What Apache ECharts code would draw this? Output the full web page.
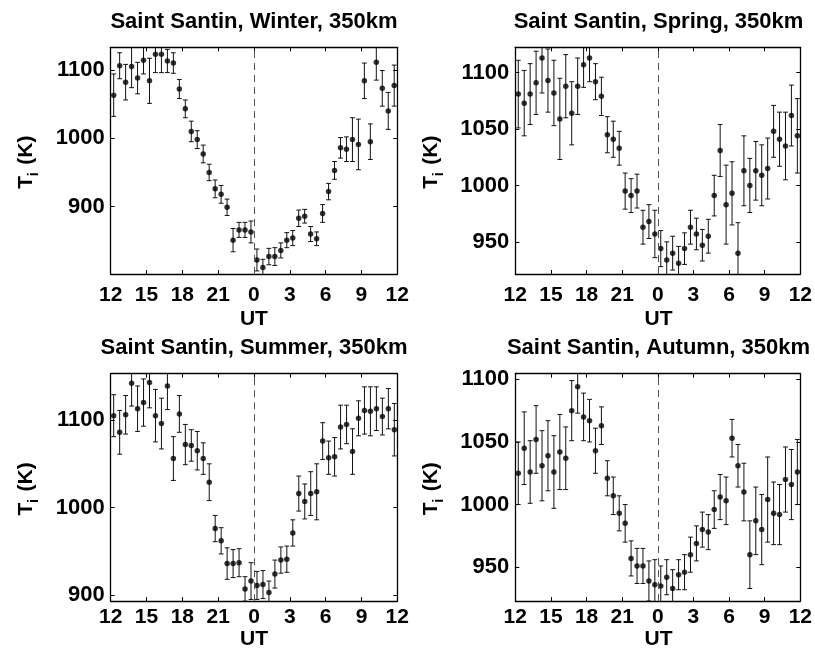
<!DOCTYPE html>
<html>
<head>
<meta charset="utf-8">
<script src="https://cdn.jsdelivr.net/npm/echarts@6/dist/echarts.min.js"></script>
<style>
  html, body { margin: 0; padding: 0; background: #fff; }
  #chart { width: 815px; height: 651px; }
</style>
</head>
<body>
<div id="chart"></div>
<script>
// ---------------- DATA ----------------
const utHours = [12.25,12.75,13.25,13.75,14.25,14.75,15.25,15.75,16.25,16.75,17.25,17.75,
  18.25,18.75,19.25,19.75,20.25,20.75,21.25,21.75,22.25,22.75,23.25,23.75,
  0.25,0.75,1.25,1.75,2.25,2.75,3.25,3.75,4.25,4.75,5.25,5.75,
  6.25,6.75,7.25,7.75,8.25,8.75,9.25,9.75,10.25,10.75,11.25,11.75];

const xTickLabels = ['12','15','18','21','0','3','6','9','12'];

const winterTi  = [1063,1106,1082,1105,1088,1114,1084,1123,1123,1113,1110,1072,1043,1010,998,977,950,926,918,899,851,866,866,863,
  822,811,827,827,836,851,854,883,886,860,853,890,922,953,986,984,998,991,1084,995,1111,1073,1040,1077];
const winterErr = [31,19,26,31,23,20,33,27,27,17,15,14,13,15,13,13,12,13,13,12,17,11,11,16,
  16,12,12,13,11,11,11,12,10,11,10,13,12,13,15,18,32,37,26,26,26,26,27,30];

const springTi  = [1081,1073,1081,1091,1113,1093,1082,1059,1088,1064,1088,1107,1113,1092,1079,1045,1041,1033,995,991,995,963,968,957,
  944,934,940,931,944,963,957,947,955,991,1031,983,993,940,1013,1000,1013,1009,1015,1048,1041,1035,1062,1044];
const springErr = [30,29,27,28,31,28,29,36,28,28,25,20,21,16,17,16,16,15,16,15,15,15,15,21,
  16,16,15,15,14,15,14,14,15,18,23,35,28,27,31,24,26,27,27,23,24,30,27,33];

const summerTi  = [1105,1086,1106,1142,1113,1120,1143,1105,1096,1139,1056,1107,1072,1071,1065,1056,1029,976,962,936,936,937,907,916,
  911,912,903,924,940,941,971,1016,1007,1016,1018,1076,1057,1058,1092,1095,1064,1102,1111,1110,1113,1104,1113,1089];
const summerErr = [24,25,22,26,26,27,29,30,29,27,25,21,23,18,22,18,21,15,15,18,16,16,14,21,
  16,16,13,16,15,15,15,20,20,25,32,21,19,22,25,22,26,20,27,28,25,21,23,30];

const autumnTi  = [1025,1045,1026,1052,1031,1039,1026,1042,1037,1075,1094,1070,1067,1043,1063,1021,1007,993,985,957,951,951,939,936,
  935,942,933,944,946,960,969,980,978,996,1006,1003,1053,1031,1010,960,987,980,1004,993,992,1020,1016,1026];
const autumnErr = [25,29,25,27,28,28,29,30,25,24,21,19,17,18,15,14,15,14,15,14,14,14,16,20,
  16,14,15,12,14,14,14,14,14,15,18,19,15,17,23,27,27,28,34,25,24,26,28,26];

const panelTitles = ['Saint Santin, Winter, 350km','Saint Santin, Spring, 350km',
  'Saint Santin, Summer, 350km','Saint Santin, Autumn, 350km'];
const winterYTicks = [900,1000,1100];
const springYTicks = [950,1000,1050,1100];
const summerYTicks = [900,1000,1100];
const autumnYTicks = [950,1000,1050,1100];

// ---------------- LAYOUT ----------------
const panels = [
  {ti: winterTi, err: winterErr, ticks: winterYTicks, yMin: 801.5, yMax: 1133,
   grid: {left: 110.7, top: 47.3, width: 286.5, height: 226.7}, labMargin: 11},
  {ti: springTi, err: springErr, ticks: springYTicks, yMin: 921.5, yMax: 1122.5,
   grid: {left: 515.3, top: 47.3, width: 286.4, height: 226.7}, labMargin: 11},
  {ti: summerTi, err: summerErr, ticks: summerYTicks, yMin: 893, yMax: 1153,
   grid: {left: 110.7, top: 373.7, width: 286.6, height: 227.5}, labMargin: 5.5},
  {ti: autumnTi, err: autumnErr, ticks: autumnYTicks, yMin: 923, yMax: 1104.5,
   grid: {left: 515.3, top: 373.7, width: 286.4, height: 227.3}, labMargin: 5.5}
];
const FONT = "'Liberation Sans', Arial, Helvetica, sans-serif";
const axisLineStyle = {color: '#000', width: 1.3};

// position on axis (hours after 12 UT)
const xPos = utHours.map(h => (h - 12 + 24) % 24);

function errRender(params, api) {
  const x = api.value(0), y = api.value(1), e = api.value(2);
  const t = api.coord([x, y + e]);
  const b = api.coord([x, y - e]);
  const hw = 2.4;
  const st = {stroke: '#111', lineWidth: 1};
  return {type: 'group', children: [
    {type: 'line', shape: {x1: t[0], y1: t[1], x2: b[0], y2: b[1]}, style: st},
    {type: 'line', shape: {x1: t[0] - hw, y1: t[1], x2: t[0] + hw, y2: t[1]}, style: st},
    {type: 'line', shape: {x1: b[0] - hw, y1: b[1], x2: b[0] + hw, y2: b[1]}, style: st}
  ]};
}

const grids = [], xAxes = [], yAxes = [], series = [], graphics = [];

panels.forEach((p, i) => {
  grids.push(Object.assign({containLabel: false}, p.grid));
  const xBase = {gridIndex: i, type: 'value', min: 0, max: 24, interval: 3,
    axisLine: {show: true, onZero: false, lineStyle: axisLineStyle},
    axisTick: {show: true, inside: true, length: 4, lineStyle: {color: '#000', width: 1}},
    splitLine: {show: false}};
  xAxes.push(Object.assign({}, xBase, {position: 'bottom',
    axisLabel: {show: true, margin: p.labMargin, color: '#000', fontFamily: FONT, fontWeight: 'bold', fontSize: 21,
      formatter: v => xTickLabels[Math.round(v / 3)]}}));
  xAxes.push(Object.assign({}, xBase, {position: 'top', axisLabel: {show: false}}));

  const yBase = {gridIndex: i, type: 'value', min: p.yMin, max: p.yMax, scale: true,
    axisLine: {show: true, onZero: false, lineStyle: axisLineStyle},
    axisTick: {show: true, inside: true, length: 4, customValues: p.ticks, lineStyle: {color: '#000', width: 1}},
    splitLine: {show: false}};
  yAxes.push(Object.assign({}, yBase, {position: 'left',
    axisLabel: {show: true, margin: 6, customValues: p.ticks, color: '#000', fontFamily: FONT, fontWeight: 'bold', fontSize: 22,
      formatter: v => String(Math.round(v))}}));
  yAxes.push(Object.assign({}, yBase, {position: 'right', axisLabel: {show: false}}));

  series.push({
    type: 'custom', xAxisIndex: 2 * i, yAxisIndex: 2 * i, clip: true,
    renderItem: errRender, encode: {x: 0, y: 1}, silent: true,
    data: xPos.map((x, k) => [x, p.ti[k], p.err[k]]), z: 2
  });
  series.push({
    type: 'scatter', xAxisIndex: 2 * i, yAxisIndex: 2 * i, clip: true,
    symbol: 'circle', symbolSize: 5.5, itemStyle: {color: '#000'}, silent: true,
    data: xPos.map((x, k) => [x, p.ti[k]]), z: 3,
    markLine: {silent: true, symbol: 'none', label: {show: false},
      lineStyle: {color: '#555', width: 1, type: [7, 5]},
      data: [{xAxis: 12}]}
  });

  const cx = p.grid.left + p.grid.width / 2;
  const cy = p.grid.top + p.grid.height / 2;
  const titleY = i < 2 ? 21.5 : 348;
  const utY = i < 2 ? 319.5 : 639;
  graphics.push({type: 'text', x: cx, y: titleY,
    style: {text: panelTitles[i], font: 'bold 22px ' + FONT, fill: '#000', align: 'center', verticalAlign: 'middle'}});
  graphics.push({type: 'text', x: cx, y: utY,
    style: {text: 'UT', font: 'bold 21px ' + FONT, fill: '#000', align: 'center', verticalAlign: 'middle'}});
  graphics.push({type: 'group', x: p.grid.left - 84.5, y: cy, rotation: Math.PI / 2, children: [
    {type: 'text', x: -28, y: 0, style: {text: 'T', font: 'bold 21px ' + FONT, fill: '#000', align: 'left', verticalAlign: 'middle'}},
    {type: 'text', x: -15.5, y: 8, style: {text: 'i', font: 'bold 15px ' + FONT, fill: '#000', align: 'left', verticalAlign: 'middle'}},
    {type: 'text', x: -4, y: 0, style: {text: '(K)', font: 'bold 21px ' + FONT, fill: '#000', align: 'left', verticalAlign: 'middle'}}
  ]});
});

const chart = echarts.init(document.getElementById('chart'), null, {renderer: 'canvas'});
chart.setOption({
  animation: false,
  backgroundColor: '#fff',
  grid: grids,
  xAxis: xAxes,
  yAxis: yAxes,
  series: series,
  graphic: graphics
});
</script>
</body>
</html>
